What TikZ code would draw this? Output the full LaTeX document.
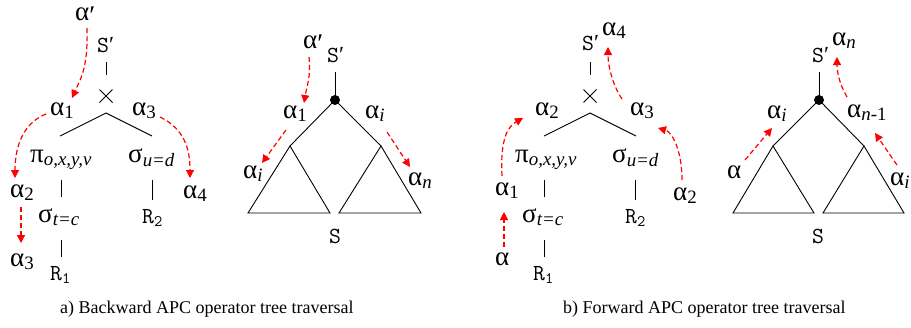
\documentclass[tikz,border=0pt]{standalone}
\usepackage{fontspec}
\setmainfont{Liberation Serif}
\setmonofont{Latin Modern Mono}
\usetikzlibrary{arrows.meta,calc}
\newcommand\pr{{\rmfamily\raisebox{-4pt}{′}}}
\newcommand\mpr{{\rmfamily ′}}
\newcommand\sub[1]{\textsubscript{#1}}
\newcommand\isub[1]{\textsubscript{\itshape #1}}
\tikzset{
  lab/.style={anchor=base west, inner sep=0pt, font=\fontsize{27}{27}\selectfont},
  mono/.style={anchor=base west, inner sep=0pt, font=\ttfamily\fontsize{23}{23}\selectfont},
  redarr/.style={red, line width=1.2pt, dash pattern=on 5pt off 3pt, -{Triangle[length=8pt,width=8pt]}},
  tree/.style={line width=0.9pt},
  captxt/.style={anchor=base west, inner sep=0pt, font=\fontsize{18}{18}\selectfont},
  dotnode/.style={circle, fill=black, inner sep=0pt, minimum size=10pt}
}
\begin{document}
\begin{tikzpicture}[x=1pt,y=-1pt]
\useasboundingbox (0,0) rectangle (911,327);

% ================= Panel a, left tree =================
\node[lab] (ap) at (75,20) {α\pr};
\node[mono] (Sa) at (97,52) {S\mpr};
\node[lab] (a1) at (50,115) {α\sub{1}};
\node[lab] (a3t) at (132,115) {α\sub{3}};
\node[lab] (pia) at (30,162) {π\isub{o,x,y,v}};
\node[lab] (sua) at (128,162) {σ\isub{u=d}};
\node[lab] (a2) at (10,197) {α\sub{2}};
\node[lab] (a4) at (183,198) {α\sub{4}};
\node[lab] (sta) at (38,222) {σ\isub{t=c}};
\node[lab] (a3) at (10,266) {α\sub{3}};
\node[mono] (R1a) at (50,280) {R\sub{1}};
\node[mono] (R2a) at (142,223) {R\sub{2}};

\coordinate (xa) at (106,96);
\coordinate (va1) at (106,62); \coordinate (va2) at (106,75);
\coordinate (ja) at (106,113); \coordinate (jal) at (60,136); \coordinate (jar) at (152,136);
\coordinate (pa1) at (61,180); \coordinate (pa2) at (61,197);
\coordinate (ta1) at (61,240); \coordinate (ta2) at (61,257);
\coordinate (ua1) at (152,180); \coordinate (ua2) at (152,200);
\draw[tree] (va1) -- (va2);
\draw[tree] (xa) +(-6.5,-6.5) -- +(6.5,6.5) (xa) +(-6.5,6.5) -- +(6.5,-6.5);
\draw[tree] (jal) -- (ja) -- (jar);
\draw[tree] (pa1) -- (pa2);
\draw[tree] (ta1) -- (ta2);
\draw[tree] (ua1) -- (ua2);

\draw[redarr] ($(ap.base west)+(12,8)$) .. controls +(1,38) and +(10,-22) .. ($(a1.base west)+(22,-17)$);
\draw[redarr] ($(a1.base west)+(-4,-1)$) .. controls +(-25,10) and +(0,-28) .. ($(a2.base west)+(5,-19)$);
\draw[redarr] ($(a2.base west)+(11,10)$) -- ($(a3.base west)+(11,-23)$);
\draw[redarr] ($(a3t.base west)+(28,2)$) .. controls +(25,12) and +(0,-28) .. ($(a4.base west)+(7,-20)$);

% ================= Panel a, right tree =================
\node[lab] (ap2) at (303,48) {α\pr};
\node[mono] (Sa2) at (327,62) {S\mpr};
\node[lab] (a1r) at (283,118) {α\sub{1}};
\node[lab] (air) at (365,118) {α\isub{i}};
\node[lab] (ail) at (243,178) {α\isub{i}};
\node[lab] (anr) at (408,185) {α\isub{n}};
\node[mono, anchor=base] (Sb2) at (335,243) {S};

\node[dotnode] (da) at (335,100) {};
\coordinate (tva) at (335,72);
\coordinate (lta) at (290,146); \coordinate (rta) at (381,146);
\coordinate (lta1) at (248,213); \coordinate (lta2) at (330,213);
\coordinate (rta1) at (339,213); \coordinate (rta2) at (421,213);
\draw[tree] (tva) -- (da.center);
\draw[tree] (lta) -- (da.center) -- (rta);
\draw[tree] (lta) -- (lta1) -- (lta2) -- cycle;
\draw[tree] (rta) -- (rta1) -- (rta2) -- cycle;

\draw[redarr] ($(ap2.base west)+(6,9)$) .. controls +(2,20) and +(3,-18) .. ($(a1r.base west)+(21,-15)$);
\draw[redarr] ($(a1r.base west)+(3,12)$) -- ($(ail.base west)+(19,-15)$);
\draw[redarr] ($(air.base west)+(22,14)$) -- ($(anr.base west)+(2,-18)$);

\node[captxt] (capa) at (60,313) {a) Backward APC operator tree traversal};

% ================= Panel b, left tree =================
\node[mono] (Sb) at (582,50) {S\mpr};
\node[lab] (b4) at (602,35) {α\sub{4}};
\node[lab] (b2) at (535,115) {α\sub{2}};
\node[lab] (b3) at (630,115) {α\sub{3}};
\node[lab] (pib) at (515,162) {π\isub{o,x,y,v}};
\node[lab] (sub) at (612,162) {σ\isub{u=d}};
\node[lab] (b1) at (495,195) {α\sub{1}};
\node[lab] (b2r) at (673,200) {α\sub{2}};
\node[lab] (stb) at (522,222) {σ\isub{t=c}};
\node[lab] (ba) at (495,265) {α};
\node[mono] (R1b) at (533,280) {R\sub{1}};
\node[mono] (R2b) at (625,223) {R\sub{2}};

\coordinate (xb) at (590,96);
\coordinate (vb1) at (590,62); \coordinate (vb2) at (590,75);
\coordinate (jb) at (590,113); \coordinate (jbl) at (544,136); \coordinate (jbr) at (636,136);
\coordinate (pb1) at (544,180); \coordinate (pb2) at (544,197);
\coordinate (tb1) at (544,240); \coordinate (tb2) at (544,257);
\coordinate (ub1) at (635,180); \coordinate (ub2) at (635,200);
\draw[tree] (vb1) -- (vb2);
\draw[tree] (xb) +(-6.5,-6.5) -- +(6.5,6.5) (xb) +(-6.5,6.5) -- +(6.5,-6.5);
\draw[tree] (jbl) -- (jb) -- (jbr);
\draw[tree] (pb1) -- (pb2);
\draw[tree] (tb1) -- (tb2);
\draw[tree] (ub1) -- (ub2);

\draw[redarr] ($(ba.base west)+(9,-18)$) -- ($(b1.base west)+(9,17)$);
\draw[redarr] ($(b1.base west)+(7,-19)$) .. controls +(-2,-40) and +(-14,8) .. ($(b2.base west)+(-12,3)$);
\draw[redarr] ($(b2r.base west)+(9,-20)$) .. controls +(0,-30) and +(14,4) .. ($(b3.base west)+(28,13)$);
\draw[redarr] ($(b3.base west)+(-8,-16)$) .. controls +(-10,-15) and +(0,18) .. ($(b4.base west)+(6,12)$);

% ================= Panel b, right tree =================
\node[mono] (Sb2r) at (812,62) {S\mpr};
\node[lab] (bn) at (832,45) {α\isub{n}};
\node[lab] (bi) at (767,118) {α\isub{i}};
\node[lab] (bn1) at (847,117) {α\textsubscript{\itshape n\upshape -1}};
\node[lab] (bal) at (727,178) {α};
\node[lab] (bir) at (890,185) {α\isub{i}};
\node[mono, anchor=base] (Sb3) at (818,243) {S};

\node[dotnode] (db) at (819,100) {};
\coordinate (tvb) at (819,72);
\coordinate (ltb) at (773,146); \coordinate (rtb) at (864,146);
\coordinate (ltb1) at (733,213); \coordinate (ltb2) at (814,213);
\coordinate (rtb1) at (823,213); \coordinate (rtb2) at (904,213);
\draw[tree] (tvb) -- (db.center);
\draw[tree] (ltb) -- (db.center) -- (rtb);
\draw[tree] (ltb) -- (ltb1) -- (ltb2) -- cycle;
\draw[tree] (rtb) -- (rtb1) -- (rtb2) -- cycle;

\draw[redarr] ($(bal.base west)+(18,-18)$) -- ($(bi.base west)+(5,10)$);
\draw[redarr] ($(bir.base west)+(7,-20)$) -- ($(bn1.base west)+(28,16)$);
\draw[redarr] ($(bn1.base west)+(0,-20)$) .. controls +(-7,-12) and +(0,16) .. ($(bn.base west)+(5,12)$);

\node[captxt] (capb) at (563,313) {b) Forward APC operator tree traversal};
\end{tikzpicture}
\end{document}
